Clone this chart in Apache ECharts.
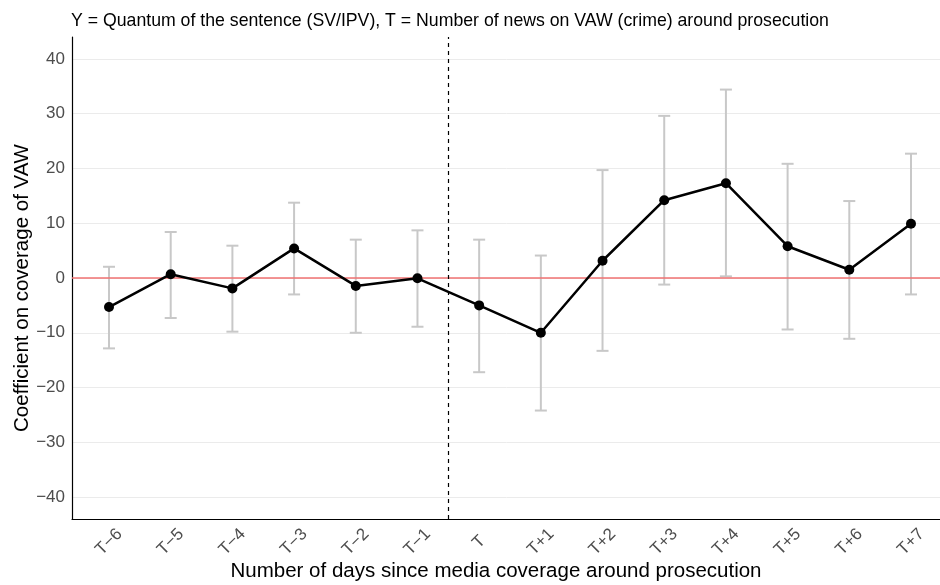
<!DOCTYPE html>
<html>
<head>
<meta charset="utf-8">
<script src="https://cdn.jsdelivr.net/npm/echarts@6/dist/echarts.min.js"></script>
<style>html,body{margin:0;padding:0;background:#fff}#c{width:940px;height:585px}</style>
</head>
<body>
<div id="c"></div>
<script>
var categories = ['T\u22126','T\u22125','T\u22124','T\u22123','T\u22122','T\u22121','T','T+1','T+2','T+3','T+4','T+5','T+6','T+7'];
var estimates = [-5.3, 0.7, -1.9, 5.4, -1.45, -0.05, -5.0, -10.0, 3.15, 14.2, 17.3, 5.8, 1.5, 9.9];
var lowerCI = [-12.85, -7.3, -9.8, -3.0, -10.0, -8.9, -17.2, -24.2, -13.3, -1.2, 0.3, -9.4, -11.1, -3.0];
var upperCI = [2.05, 8.4, 5.9, 13.75, 7.0, 8.7, 7.0, 4.1, 19.7, 29.6, 34.4, 20.85, 14.05, 22.7];
var yTicks = [-40, -30, -20, -10, 0, 10, 20, 30, 40];
var xIndex = categories.map(function(_, i){ return i; });
var eventLine = 5.5;

var chart = echarts.init(document.getElementById('c'), null, {renderer: 'canvas'});
var font = 'Liberation Sans, Arial, Helvetica, sans-serif';

var errData = xIndex.map(function(i){ return [i, lowerCI[i], upperCI[i]]; });
var ptData = xIndex.map(function(i){ return [i, estimates[i]]; });

chart.setOption({
  animation: false,
  backgroundColor: '#ffffff',
  title: {
    text: 'Y = Quantum of the sentence (SV/IPV), T = Number of news on VAW (crime) around prosecution',
    left: 66, top: 7,
    textStyle: {fontFamily: font, fontSize: 17.7, fontWeight: 'normal', color: '#000'}
  },
  grid: {left: 72, width: 876, top: 37, bottom: 66, containLabel: false, outerBoundsMode: 'none'},
  xAxis: {
    type: 'value', min: -0.6, max: 13.6,
    name: 'Number of days since media coverage around prosecution',
    nameLocation: 'middle', nameGap: 42, nameMoveOverlap: false,
    nameTextStyle: {fontFamily: font, fontSize: 20.5, color: '#000', padding: [0, 28, 0, 0]},
    axisLine: {show: true, onZero: false, lineStyle: {color: '#000', width: 1.2}},
    axisTick: {show: false, customValues: xIndex},
    splitLine: {show: false},
    axisLabel: {
      customValues: xIndex, rotate: 45, margin: 23,
      align: 'center', verticalAlign: 'middle',
      fontFamily: font, fontSize: 17, color: '#4d4d4d',
      formatter: function(v){ return categories[Math.round(v)]; }
    }
  },
  yAxis: {
    type: 'value', min: -44, max: 44,
    name: 'Coefficient on coverage of VAW',
    nameLocation: 'middle', nameGap: 39, nameMoveOverlap: false,
    nameTextStyle: {fontFamily: font, fontSize: 20.5, color: '#000', padding: [0, 20, 0, 0]},
    axisLine: {show: true, onZero: false, lineStyle: {color: '#000', width: 1.2}},
    axisTick: {show: false, customValues: yTicks},
    axisLabel: {
      customValues: yTicks, fontFamily: font, fontSize: 17, color: '#4d4d4d', margin: 7,
      formatter: function(v){ return String(v).replace('-', '\u2212'); }
    },
    splitLine: {show: true, lineStyle: {color: '#ebebeb', width: 1}}
  },
  series: [
    {
      type: 'line', data: [], silent: true,
      markLine: {
        symbol: 'none', silent: true, label: {show: false},
        data: [
          [{coord: [-0.6, 0]}, {coord: [13.6, 0]}]
        ],
        lineStyle: {color: '#f07272', width: 1.5, type: 'solid'}
      }
    },
    {
      type: 'line', data: [], silent: true,
      markLine: {
        symbol: 'none', silent: true, label: {show: false},
        data: [{xAxis: eventLine}],
        lineStyle: {color: '#000', width: 1.2, type: [4, 4]}
      }
    },
    {
      type: 'custom', data: errData, silent: true, z: 3,
      renderItem: function(params, api){
        var x = api.value(0);
        var lo = api.coord([x, api.value(1)]);
        var hi = api.coord([x, api.value(2)]);
        var hw = 6;
        var st = {stroke: '#c8c8c8', lineWidth: 2};
        return {type: 'group', children: [
          {type: 'line', shape: {x1: lo[0], y1: lo[1], x2: hi[0], y2: hi[1]}, style: st},
          {type: 'line', shape: {x1: lo[0]-hw, y1: lo[1], x2: lo[0]+hw, y2: lo[1]}, style: st},
          {type: 'line', shape: {x1: hi[0]-hw, y1: hi[1], x2: hi[0]+hw, y2: hi[1]}, style: st}
        ]};
      }
    },
    {
      type: 'line', data: ptData, z: 5,
      symbol: 'circle', symbolSize: 10,
      lineStyle: {color: '#000', width: 2.5},
      itemStyle: {color: '#000'}
    }
  ]
});
</script>
</body>
</html>
